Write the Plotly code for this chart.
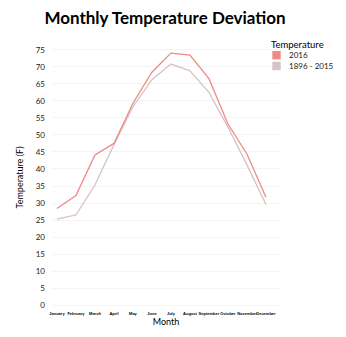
import plotly.graph_objects as go

months = ["January", "February", "March", "April", "May", "June", "July",
          "August", "September", "October", "November", "December"]
temp_2016 = [28.4, 32.2, 44.1, 47.5, 59.3, 68.4, 74.0, 73.4, 66.5, 53.2, 44.4, 31.7]
temp_hist = [25.3, 26.5, 35.3, 47.1, 58.3, 66.2, 70.8, 68.8, 62.5, 52.3, 41.2, 29.6]
series_names = ["2016", "1896 - 2015"]
line_colors = ["#ef8a85", "#d6c3c3"]
y_ticks = list(range(0, 80, 5))

W, H = 346, 337
ML, MR, MT, MB = 52, 66, 47, 29

fig = go.Figure()
fig.add_trace(go.Scatter(x=months, y=temp_hist, mode="lines", name=series_names[1],
                         line=dict(color=line_colors[1], width=1.3), showlegend=False))
fig.add_trace(go.Scatter(x=months, y=temp_2016, mode="lines", name=series_names[0],
                         line=dict(color=line_colors[0], width=1.3), showlegend=False))

# manual legend in paper coordinates (pixel -> paper)
def px(x):
    return (x - ML) / (W - ML - MR)

def py(y):
    return (H - MB - y) / (H - MT - MB)

shapes = []
annotations = [dict(text="Temperature", x=px(269), y=py(45), xref="paper", yref="paper",
                    xanchor="left", yanchor="middle", showarrow=False,
                    font=dict(size=9.5, color="black"))]
for i, (name, col) in enumerate(zip(series_names, line_colors)):
    yc = 55.2 + i * 10.8
    shapes.append(dict(type="rect", xref="paper", yref="paper",
                       x0=px(272.3), x1=px(280.7), y0=py(yc - 4.2), y1=py(yc + 4.2),
                       fillcolor=col, line=dict(width=0)))
    annotations.append(dict(text=name, x=px(286.5), y=py(yc), xref="paper", yref="paper",
                            xanchor="left", yanchor="middle", showarrow=False,
                            font=dict(size=8, color="#222")))

fig.update_layout(
    width=W, height=H,
    margin=dict(l=ML, r=MR, t=MT, b=MB),
    paper_bgcolor="white", plot_bgcolor="white",
    showlegend=False,
    font=dict(family="Lato, sans-serif", color="#222"),
    title=dict(text="<b>Monthly Temperature Deviation</b>", x=0.477, xanchor="center",
               y=0.945, yanchor="middle",
               font=dict(size=17, color="black", family="Lato, sans-serif")),
    shapes=shapes, annotations=annotations,
    xaxis=dict(type="category", categoryorder="array", categoryarray=months,
               range=[-0.26, 11.74], showgrid=False, zeroline=False, showline=False,
               ticks="", tickangle=0, ticklabelstandoff=2,
               tickfont=dict(size=4, family="Liberation Sans Narrow, Liberation Sans, sans-serif",
                             color="black", weight="bold"),
               title=dict(text="Month", font=dict(size=9, color="black"), standoff=1)),
    yaxis=dict(range=[-0.8, 75.8], tickvals=y_ticks, showgrid=True, gridcolor="#f4f4f4",
               gridwidth=1, zeroline=False, showline=False, ticks="",
               ticklabelstandoff=6,
               tickfont=dict(size=8, color="#222"),
               title=dict(text="Temperature (F)", font=dict(size=9, color="black"), standoff=10)),
)

fig.write_html("out.html")
